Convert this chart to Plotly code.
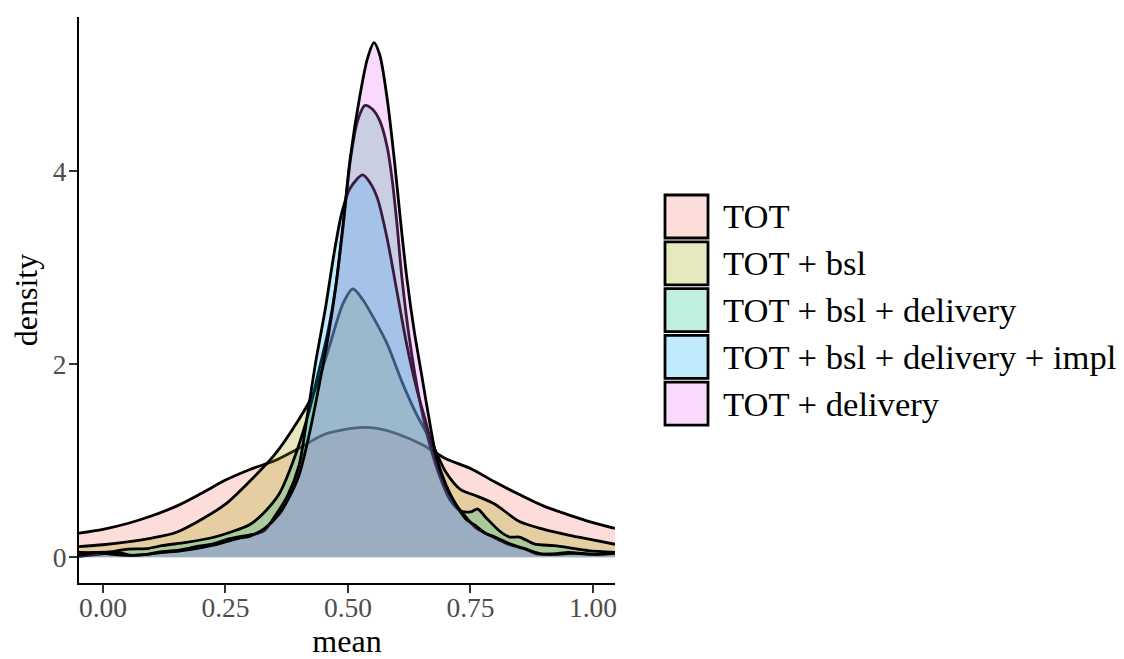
import plotly.graph_objects as go

# ---------------- data ----------------
series_names = ["TOT", "TOT + bsl", "TOT + bsl + delivery",
                "TOT + bsl + delivery + impl", "TOT + delivery"]
series_colors = ["#F8766D", "#A3A500", "#00BF7D", "#00B0F6", "#E76BF3"]

tot_x = [-0.049, 0.0, 0.05, 0.1, 0.15, 0.2, 0.25, 0.3, 0.35, 0.4, 0.45, 0.5,
         0.53, 0.56, 0.6, 0.65, 0.7, 0.75, 0.8, 0.85, 0.9, 0.95, 1.0, 1.045]
tot_y = [0.25, 0.29, 0.35, 0.43, 0.53, 0.66, 0.80, 0.91, 1.00, 1.13, 1.27, 1.33,
         1.345, 1.335, 1.28, 1.17, 1.02, 0.92, 0.78, 0.65, 0.53, 0.44, 0.36, 0.30]

bsl_x = [-0.049, 0.0, 0.05, 0.1, 0.15, 0.2, 0.25, 0.3, 0.35, 0.4, 0.43, 0.46,
         0.49, 0.51, 0.53, 0.55, 0.58, 0.61, 0.64, 0.67, 0.7, 0.73, 0.76, 0.8,
         0.85, 0.9, 0.95, 1.0, 1.045]
bsl_y = [0.11, 0.13, 0.16, 0.20, 0.26, 0.39, 0.55, 0.79, 1.06, 1.43, 1.70, 2.15,
         2.63, 2.78, 2.67, 2.50, 2.21, 1.82, 1.48, 1.20, 0.88, 0.70, 0.64, 0.55,
         0.37, 0.29, 0.23, 0.18, 0.135]

bd_x = [-0.049, -0.01, 0.02, 0.05, 0.09, 0.12, 0.17, 0.22, 0.26, 0.3, 0.33,
        0.36, 0.39, 0.42, 0.44, 0.46, 0.475, 0.49, 0.505, 0.52, 0.535, 0.55,
        0.565, 0.58, 0.59, 0.6, 0.61, 0.625, 0.645, 0.665, 0.69, 0.71, 0.73,
        0.75, 0.765, 0.78, 0.81, 0.83, 0.85, 0.88, 0.92, 0.95, 0.99, 1.045]
bd_y = [0.05, 0.05, 0.06, 0.085, 0.09, 0.12, 0.155, 0.20, 0.26, 0.34, 0.47,
        0.66, 1.02, 1.50, 1.92, 2.36, 2.80, 3.42, 4.12, 4.53, 4.68, 4.64,
        4.52, 4.25, 3.92, 3.45, 2.90, 2.28, 1.66, 1.20, 0.80, 0.58, 0.48,
        0.47, 0.50, 0.42, 0.27, 0.21, 0.21, 0.14, 0.12, 0.10, 0.07, 0.05]

bdi_x = [-0.049, -0.01, 0.03, 0.06, 0.09, 0.12, 0.155, 0.19, 0.225, 0.257,
         0.285, 0.31, 0.33, 0.35, 0.375, 0.4, 0.418, 0.435, 0.453, 0.473,
         0.487, 0.504, 0.53, 0.545, 0.56, 0.58, 0.6, 0.62, 0.64, 0.66, 0.68,
         0.7, 0.72, 0.74, 0.76, 0.8, 0.83, 0.865, 0.885, 0.92, 0.95, 0.98,
         1.01, 1.045]
bdi_y = [0.01, 0.03, 0.05, 0.02, 0.03, 0.06, 0.075, 0.11, 0.14, 0.19,
         0.22, 0.24, 0.28, 0.42, 0.62, 0.95, 1.50, 2.05, 2.55, 3.19,
         3.56, 3.82, 3.96, 3.88, 3.72, 3.30, 2.75, 2.20, 1.75, 1.38, 1.00,
         0.72, 0.55, 0.42, 0.31, 0.20, 0.13, 0.08, 0.035, 0.035, 0.05, 0.04,
         0.03, 0.05]

del_x = [-0.049, -0.015, 0.02, 0.053, 0.087, 0.12, 0.155, 0.19, 0.22, 0.25,
         0.28, 0.30, 0.33, 0.36, 0.38, 0.40, 0.42, 0.44, 0.46, 0.475, 0.49,
         0.505, 0.525, 0.54, 0.553, 0.565, 0.58, 0.595, 0.607, 0.62, 0.635,
         0.65, 0.665, 0.68, 0.70, 0.72, 0.74, 0.76, 0.78, 0.8, 0.83, 0.86,
         0.89, 0.92, 0.96, 1.0, 1.045]
del_y = [0.02, 0.05, 0.03, 0.02, 0.03, 0.05, 0.065, 0.09, 0.12, 0.16,
         0.20, 0.22, 0.30, 0.45, 0.62, 0.85, 1.25, 1.75, 2.30, 2.80, 3.45,
         4.15, 4.80, 5.17, 5.33, 5.20, 4.75, 4.10, 3.50, 2.90, 2.35,
         1.90, 1.45, 1.05, 0.75, 0.55, 0.40, 0.33, 0.25, 0.21, 0.14, 0.09,
         0.04, 0.03, 0.04, 0.03, 0.04]

series_x = [tot_x, bsl_x, bd_x, bdi_x, del_x]
series_y = [tot_y, bsl_y, bd_y, bdi_y, del_y]

x_ticks = [0.0, 0.25, 0.5, 0.75, 1.0]
x_tick_labels = ["0.00", "0.25", "0.50", "0.75", "1.00"]
y_ticks = [0, 2, 4]
y_tick_labels = ["0", "2", "4"]

# ---------------- layout constants ----------------
# the page body has an 8px margin, so the figure is shrunk/shifted by 8px
W, H = 1116, 651
ML, MR, MT, MB = 71, 509, 9, 76
FONT = "Liberation Serif, Times New Roman, serif"
ALPHA = 0.25


def rgba(hex_color, a):
    h = hex_color.lstrip("#")
    r, g, b = int(h[0:2], 16), int(h[2:4], 16), int(h[4:6], 16)
    return f"rgba({r},{g},{b},{a})"


fig = go.Figure()
for name, col, xs, ys in zip(series_names, series_colors, series_x, series_y):
    fig.add_trace(go.Scatter(
        x=xs, y=ys, name=name, mode="lines",
        line=dict(color="black", width=2.8, shape="spline", smoothing=0.8),
        fill="tozeroy", fillcolor=rgba(col, ALPHA),
        showlegend=False, hoverinfo="skip"))

# ---------------- manual legend (square keys like ggplot) ----------------
pw = W - ML - MR
ph = H - MT - MB


def px_x(px):
    return (px - ML) / pw


def px_y(py):
    return (H - MB - py) / ph


key_left, key_size, key_pitch, key_top = 657, 43, 46.8, 187
shapes = []
annotations = []
for i, (name, col) in enumerate(zip(series_names, series_colors)):
    top = key_top + i * key_pitch
    shapes.append(dict(type="rect", xref="paper", yref="paper",
                       x0=px_x(key_left), x1=px_x(key_left + key_size),
                       y0=px_y(top + key_size), y1=px_y(top),
                       fillcolor=rgba(col, ALPHA),
                       line=dict(color="black", width=2.8), layer="above"))
    annotations.append(dict(xref="paper", yref="paper",
                            x=px_x(key_left + key_size + 13),
                            y=px_y(top + key_size / 2),
                            text=name, showarrow=False,
                            xanchor="left", yanchor="middle",
                            font=dict(family=FONT, size=34.6, color="black")))

fig.update_layout(
    width=W, height=H,
    margin=dict(l=ML, r=MR, t=MT, b=MB, autoexpand=False),
    plot_bgcolor="white", paper_bgcolor="white",
    shapes=shapes, annotations=annotations,
    font=dict(family=FONT),
)
fig.update_xaxes(
    range=[-0.049, 1.045], showgrid=False, zeroline=False,
    showline=True, linecolor="black", linewidth=2,
    ticks="outside", ticklen=8, tickwidth=2, tickcolor="#333333",
    tickvals=x_ticks, ticktext=x_tick_labels, ticklabelstandoff=-9,
    tickfont=dict(family=FONT, size=27.5, color="#4D4D4D"),
    title=dict(text="mean", font=dict(family=FONT, size=32, color="black"),
               standoff=20),
)
fig.update_yaxes(
    range=[-0.266, 5.596], showgrid=False, zeroline=False,
    showline=True, linecolor="black", linewidth=2,
    ticks="outside", ticklen=8, tickwidth=2, tickcolor="#333333",
    tickvals=y_ticks, ticktext=y_tick_labels, ticklabelstandoff=-3,
    tickfont=dict(family=FONT, size=27.5, color="#4D4D4D"),
    title=dict(text="density", font=dict(family=FONT, size=32, color="black"),
               standoff=18),
)

fig.write_html("out.html")
